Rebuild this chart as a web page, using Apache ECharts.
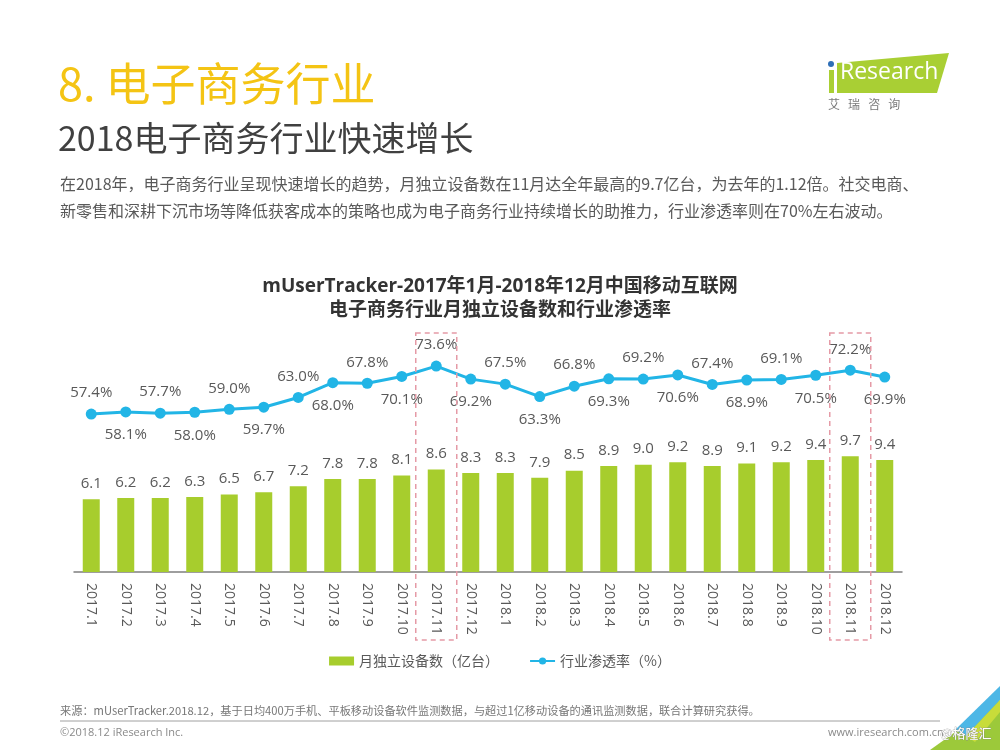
<!DOCTYPE html>
<html>
<head>
<meta charset="utf-8">
<script src="https://cdn.jsdelivr.net/npm/echarts@6/dist/echarts.min.js"></script>
<style>
html,body{margin:0;padding:0;background:#ffffff;}
#main{width:1000px;height:750px;}
</style>
</head>
<body>
<div id="main"></div>
<script>
const categories = ['2017.1','2017.2','2017.3','2017.4','2017.5','2017.6','2017.7','2017.8','2017.9','2017.10','2017.11','2017.12',
  '2018.1','2018.2','2018.3','2018.4','2018.5','2018.6','2018.7','2018.8','2018.9','2018.10','2018.11','2018.12'];
const devices = [6.1,6.2,6.2,6.3,6.5,6.7,7.2,7.8,7.8,8.1,8.6,8.3,8.3,7.9,8.5,8.9,9.0,9.2,8.9,9.1,9.2,9.4,9.7,9.4];
const penetration = [57.4,58.1,57.7,58.0,59.0,59.7,63.0,68.0,67.8,70.1,73.6,69.2,67.5,63.3,66.8,69.3,69.2,70.6,67.4,68.9,69.1,70.5,72.2,69.9];
const highlightCats = ['2017.11','2018.11'];
const seriesNames = ['月独立设备数（亿台）','行业渗透率（%）'];

const FONT = '"Open Sans","Noto Sans CJK SC",sans-serif';
const CJK = '"Noto Sans CJK SC","Open Sans",sans-serif';
const GREEN = '#a7cd2d';
const BLUE = '#22b5e6';
const TXT = '#595959';

const chart = echarts.init(document.getElementById('main'), null, {renderer:'canvas'});

const baseGraphics = [
  {id:'t1', type:'text', left:58, top:61, style:{text:'8. 电子商务行业', fill:'#f4c414', font:'45px ' + CJK}},
  {id:'t2', type:'text', left:58, top:121, style:{text:'2018电子商务行业快速增长', fill:'#404040', font:'34px ' + CJK}},
  {id:'p1', type:'text', left:60, top:176, style:{text:'在2018年，电子商务行业呈现快速增长的趋势，月独立设备数在11月达全年最高的9.7亿台，为去年的1.12倍。社交电商、', fill:TXT, font:'16px ' + CJK}},
  {id:'p2', type:'text', left:60, top:203, style:{text:'新零售和深耕下沉市场等降低获客成本的策略也成为电子商务行业持续增长的助推力，行业渗透率则在70%左右波动。', fill:TXT, font:'16px ' + CJK}},
  // logo
  {id:'lg1', type:'polygon', shape:{points:[[837,63],[949,53],[937,93],[837,93]]}, style:{fill:'#a9cf34'}},
  {id:'lg2', type:'circle', shape:{cx:831,cy:64,r:3}, style:{fill:'#2e6fb7'}},
  {id:'lg3', type:'rect', shape:{x:829,y:70,width:5,height:23}, style:{fill:'#a9cf34'}},
  {id:'lg4', type:'text', left:840, top:61, style:{text:'Research', fill:'#ffffff', font:'23px "Open Sans",sans-serif'}},
  {id:'lg5', type:'text', left:828, top:98, style:{text:'艾   瑞   咨   询', fill:'#7a7a7a', font:'12px ' + CJK}},
  // footer
  {id:'f1', type:'text', left:60, top:705, style:{text:'来源：mUserTracker.2018.12，基于日均400万手机、平板移动设备软件监测数据，与超过1亿移动设备的通讯监测数据，联合计算研究获得。', fill:'#777777', font:'11.2px ' + CJK}},
  {id:'f2', type:'line', shape:{x1:60,y1:721,x2:940,y2:721}, style:{stroke:'#a0a0a0', lineWidth:1}},
  {id:'f3', type:'text', left:60, top:727, style:{text:'©2018.12 iResearch Inc.', fill:'#8a8a8a', font:'11px ' + FONT}},
  {id:'f4', type:'text', left:828, top:727, style:{text:'www.iresearch.com.cn', fill:'#8a8a8a', font:'11px ' + FONT}},
  {id:'c1', type:'polygon', shape:{points:[[930,750],[1000,700],[1000,750]]}, style:{fill:'#9cc93a'}},
  {id:'c2', type:'polygon', shape:{points:[[955,730],[1000,686],[1000,700],[966,736]]}, style:{fill:'#4db7e6'}},
  {id:'c3', type:'polygon', shape:{points:[[966,736],[1000,700],[1000,712],[975,742]]}, style:{fill:'#c8dc3a'}},
  {id:'w1', type:'text', left:940, top:726, style:{text:'@格隆汇', fill:'#ffffff', stroke:'#888888', lineWidth:0.6, font:'13px ' + CJK}}
];

const option = {
  backgroundColor:'#ffffff',
  animation:false,
  textStyle:{fontFamily:FONT},
  title:{
    text:'mUserTracker-2017年1月-2018年12月中国移动互联网\n电子商务行业月独立设备数和行业渗透率',
    left:'center', top:270,
    textStyle:{fontSize:19, fontWeight:'bold', color:'#333333', lineHeight:24, fontFamily:FONT}
  },
  legend:{
    data:[{name:seriesNames[0], icon:'rect'}, {name:seriesNames[1]}],
    top:649, left:'center',
    itemWidth:25, itemHeight:9, itemGap:30,
    textStyle:{fontSize:14, color:TXT, fontFamily:CJK}
  },
  grid:{left:74, right:98, top:330, bottom:178},
  xAxis:{
    type:'category', data:categories, boundaryGap:true,
    axisLine:{lineStyle:{color:'#7f7f7f', width:1.5}},
    axisTick:{show:false},
    axisLabel:{rotate:-90, color:TXT, fontSize:14, margin:11, interval:0, fontFamily:'"Open Sans",sans-serif'}
  },
  yAxis:[
    {type:'value', min:0, max:20.3, show:false, splitLine:{show:false}},
    {type:'value', min:4, max:85.8, show:false, splitLine:{show:false}}
  ],
  series:[
    {
      name:seriesNames[0], type:'bar', data:devices, yAxisIndex:0, barWidth:17,
      itemStyle:{color:GREEN},
      label:{show:true, position:'top', distance:8, color:TXT, fontSize:15, fontFamily:FONT, formatter:p=>p.value.toFixed(1)}
    },
    {
      name:seriesNames[1], type:'line', yAxisIndex:1,
      data:penetration.map((v,i)=>({
        value:v,
        label:{position: i%2===0 ? 'top':'bottom', distance: i%2===0 ? 8 : 10}
      })),
      symbol:'circle', symbolSize:11,
      lineStyle:{color:BLUE, width:3},
      itemStyle:{color:BLUE},
      label:{show:true, color:TXT, fontSize:15, fontFamily:FONT, formatter:p=>p.value.toFixed(1)+'%'}
    }
  ],
  graphic: baseGraphics
};
chart.setOption(option);

const boxes = highlightCats.map((c,k)=>{
  const x = chart.convertToPixel({xAxisIndex:0}, c);
  return {id:'box'+k, type:'rect', shape:{x:x-20.5, y:333, width:41, height:307},
    style:{fill:'none', stroke:'#e59aa6', lineWidth:1.5, lineDash:[5,4]}, z:100};
});
chart.setOption({graphic: baseGraphics.concat(boxes)});
</script>
</body>
</html>
